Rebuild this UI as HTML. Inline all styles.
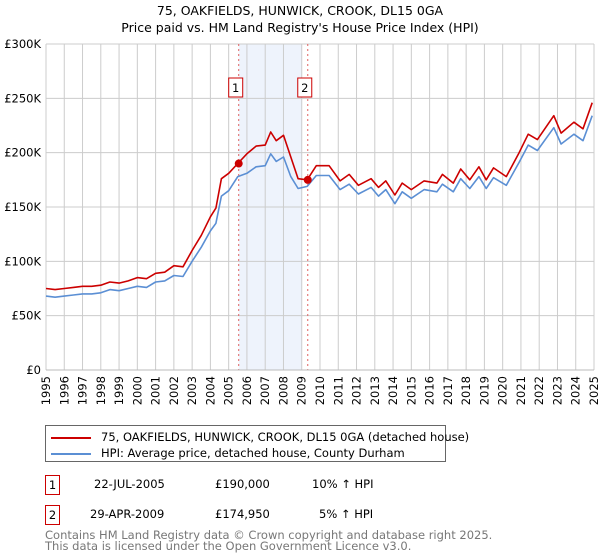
<!DOCTYPE html>
<html><head><meta charset="utf-8"><style>
body{margin:0;background:#fff;font-family:"DejaVu Sans","Liberation Sans",sans-serif;}
#wrap{position:relative;width:600px;height:560px;}
</style></head><body><div id="wrap">
<svg id="chart" width="600" height="420" style="position:absolute;left:0;top:0"></svg>
<div style="position:absolute;left:45px;top:425px;width:399px;height:35px;border:1px solid #666;font-size:11.5px;">
 <div style="position:absolute;left:5px;top:4px;white-space:nowrap"><span style="display:inline-block;width:40px;height:2px;background:#cc0000;vertical-align:middle;margin-right:10px"></span>75, OAKFIELDS, HUNWICK, CROOK, DL15 0GA (detached house)</div>
 <div style="position:absolute;left:5px;top:20px;white-space:nowrap"><span style="display:inline-block;width:40px;height:2px;background:#5b8fd4;vertical-align:middle;margin-right:10px"></span>HPI: Average price, detached house, County Durham</div>
</div>
<div style="position:absolute;left:0;top:475px;width:600px;height:20px;font-size:11.5px">
 <div style="position:absolute;left:45px;top:0;width:13px;height:18px;border:1px solid #cc0000;text-align:center;line-height:18px">1</div>
 <span style="position:absolute;left:94px;top:2px">22-JUL-2005</span>
 <span style="position:absolute;left:215px;top:2px">£190,000</span>
 <span style="position:absolute;left:312px;top:2px">10% ↑ HPI</span>
</div>
<div style="position:absolute;left:0;top:505px;width:600px;height:20px;font-size:11.5px">
 <div style="position:absolute;left:45px;top:0;width:13px;height:18px;border:1px solid #cc0000;text-align:center;line-height:18px">2</div>
 <span style="position:absolute;left:90px;top:2px">29-APR-2009</span>
 <span style="position:absolute;left:215px;top:2px">£174,950</span>
 <span style="position:absolute;left:319px;top:2px">5% ↑ HPI</span>
</div>
<div style="position:absolute;left:45px;top:530px;font-size:11.5px;color:#777;line-height:11px;white-space:nowrap">Contains HM Land Registry data © Crown copyright and database right 2025.<br>This data is licensed under the Open Government Licence v3.0.</div>
</div>
<script>
const years=[1995,1996,1997,1998,1999,2000,2001,2002,2003,2004,2005,2006,2007,2008,2009,2010,2011,2012,2013,2014,2015,2016,2017,2018,2019,2020,2021,2022,2023,2024,2025];
const yTicks=[0,50000,100000,150000,200000,250000,300000];
const yTickLabels=["£0","£50K","£100K","£150K","£200K","£250K","£300K"];
const hpiDates=[1995.0,1995.5,1996,1996.5,1997,1997.5,1998,1998.5,1999,1999.5,2000,2000.5,2001,2001.5,2002,2002.5,2003,2003.5,2004,2004.3,2004.6,2005,2005.5,2006,2006.5,2007,2007.3,2007.6,2008,2008.4,2008.8,2009.3,2009.8,2010.5,2011.1,2011.6,2012.1,2012.8,2013.2,2013.6,2014.1,2014.5,2015,2015.7,2016.4,2016.7,2017.3,2017.7,2018.2,2018.7,2019.1,2019.5,2020.2,2020.9,2021.4,2021.9,2022.8,2023.2,2023.9,2024.4,2024.9];
const hpiValues=[68,67,68,69,70,70,71,74,73,75,77,76,81,82,87,86,100,113,128,135,160,165,178,181,187,188,199,192,196,178,167,169,179,179,166,171,162,168,160,166,153,164,158,166,164,171,164,176,167,178,167,177,170,191,207,202,223,208,217,211,234];
const priceValues=[75,74,75,76,77,77,78,81,80,82,85,84,89,90,96,95,110,124,141,149,176,181,190,199,206,207,219,211,216,196,176,175,188,188,174,180,170,176,168,174,161,172,166,174,172,180,172,185,175,187,175,186,178,200,217,212,234,218,228,222,246];
const saleDates=[2005.55,2009.33];
const salePrices=[190000,174950];
const saleLabels=["1","2"];
const NS="http://www.w3.org/2000/svg";
const svg=document.getElementById('chart');
const X0=46,X1=594,Y0=370,Y1=44;
function xs(t){return X0+(t-1995)/30*(X1-X0);}
function ys(v){return Y0-v/300000*(Y0-Y1);}
function mk(tag,attrs){const e=document.createElementNS(NS,tag);for(const k in attrs)e.setAttribute(k,attrs[k]);svg.appendChild(e);return e;}
let t=mk('text',{x:300,y:15,'text-anchor':'middle','font-size':'12.5'});t.textContent="75, OAKFIELDS, HUNWICK, CROOK, DL15 0GA";


t=mk('text',{x:300,y:32,'text-anchor':'middle','font-size':'12.5'});t.textContent="Price paid vs. HM Land Registry's House Price Index (HPI)";


let sh=mk('rect',{x:xs(saleDates[0]),y:Y1,width:xs(2009.0)-xs(saleDates[0]),height:Y0-Y1,fill:'#eef3fc'});


years.forEach((yr,i)=>{
 const g=mk('line',{x1:xs(yr),x2:xs(yr),y1:Y1,y2:Y0,stroke:'#cccccc','stroke-width':1});
 
 
 const lx=xs(yr)+4,ly=Y0+6;
 const l=mk('text',{x:lx,y:ly,'font-size':'11.5','text-anchor':'end',transform:`rotate(-90 ${lx} ${ly})`});
 l.textContent=yr;
 
 
});
yTicks.forEach((v,i)=>{
 const g=mk('line',{x1:X0,x2:X1,y1:ys(v),y2:ys(v),stroke:'#cccccc','stroke-width':1});
 
 
 const l=mk('text',{x:X0-5,y:ys(v)+4,'font-size':'11.5','text-anchor':'end'});
 l.textContent=yTickLabels[i];
 
 
});
saleDates.forEach((d,i)=>{
 const l=mk('line',{x1:xs(d),x2:xs(d),y1:Y1,y2:Y0,stroke:'#e06060','stroke-width':1,'stroke-dasharray':'2,3'});
 
 
 const b=mk('rect',{x:xs(d)-10,y:78,width:14,height:19,fill:'#fff',stroke:'#cc0000'});
 
 
 const tx=mk('text',{x:xs(d)-3,y:92,'font-size':'11.5','text-anchor':'middle'});tx.textContent=saleLabels[i];
 
 
});
function path(vals,color,name){
 const d=hpiDates.map((t,i)=>(i?'L':'M')+xs(t).toFixed(1)+','+ys(vals[i]*1000).toFixed(1)).join('');
 const p=mk('path',{d:d,fill:'none',stroke:color,'stroke-width':1.6,'stroke-linejoin':'round'});
 
 
}
path(hpiValues,'#5b8fd4','hpi-line');
path(priceValues,'#cc0000','price-line');
saleDates.forEach((d,i)=>{
 const c=mk('circle',{cx:xs(d),cy:ys(salePrices[i]),r:4,fill:'#cc0000'});
 
 
});
const ax=mk('line',{x1:X0,x2:X1,y1:Y0,y2:Y0,stroke:'#bbb'});


</script></body></html>
